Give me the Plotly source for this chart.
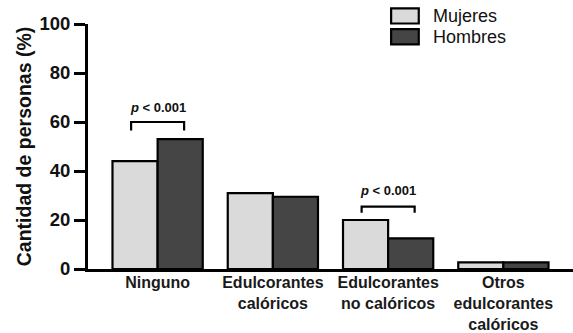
import plotly.graph_objects as go

# Data
categories = ["Ninguno", "Edulcorantes<br>calóricos", "Edulcorantes<br>no calóricos",
              "Otros<br>edulcorantes<br>calóricos"]
mujeres = [44, 31, 20, 2.7]
hombres = [53, 29.5, 12.5, 2.7]
series_names = ["Mujeres", "Hombres"]
y_ticks = [0, 20, 40, 60, 80, 100]

# Significance brackets: category index, bracket top, leg bottom, label height
sig_categories = [0, 2]
sig_tops = [60, 25.5]
sig_legs = [56.5, 23]
sig_label_y = [66, 32]
sig_label = "<b><i>p</i> < 0.001</b>"

LIGHT = "#dadada"
DARK = "#454545"
FONT = "Liberation Sans, Arial, sans-serif"

x_idx = list(range(len(categories)))

fig = go.Figure()
fig.add_trace(go.Bar(x=x_idx, y=mujeres, name=series_names[0],
                     marker=dict(color=LIGHT, line=dict(color="black", width=2.2))))
fig.add_trace(go.Bar(x=x_idx, y=hombres, name=series_names[1],
                     marker=dict(color=DARK, line=dict(color="black", width=2.2))))

# Brackets and p-value labels
half = 0.23
for c, top, leg, ly in zip(sig_categories, sig_tops, sig_legs, sig_label_y):
    fig.add_shape(type="path",
                  path=f"M {c-half},{leg} L {c-half},{top} L {c+half},{top} L {c+half},{leg}",
                  xref="x", yref="y", line=dict(color="black", width=2.2))
    fig.add_annotation(x=c, y=ly, xref="x", yref="y", text=sig_label, showarrow=False,
                       font=dict(family=FONT, size=13, color="#111"))

# Legend drawn as boxes with labels
legend_colors = [LIGHT, DARK]
legend_y = [1.033, 0.948]
for name, col, yc in zip(series_names, legend_colors, legend_y):
    fig.add_shape(type="rect", xref="paper", yref="paper",
                  x0=0.625, x1=0.682, y0=yc - 0.031, y1=yc + 0.031,
                  fillcolor=col, line=dict(color="black", width=2.2))
    fig.add_annotation(x=0.708, y=yc, xref="paper", yref="paper", text=name,
                       showarrow=False, xanchor="left", yanchor="middle",
                       font=dict(family=FONT, size=18, color="#111"))

fig.update_layout(
    width=573, height=333,
    margin=dict(l=88, r=0, t=24, b=64),
    paper_bgcolor="white", plot_bgcolor="white",
    barmode="group", bargap=0.217, bargroupgap=0,
    showlegend=False,
    font=dict(family=FONT, color="#111"),
)
fig.update_xaxes(
    range=[-0.604, 3.604], tickmode="array", tickvals=x_idx,
    ticktext=[f"<b>{c}</b>" for c in categories],
    tickfont=dict(family=FONT, size=16, color="#1a1a1a"),
    showline=True, linecolor="black", linewidth=3,
    ticks="", showgrid=False, zeroline=False, ticklabelstandoff=-3,
    automargin=False,
)
fig.update_yaxes(
    range=[0, 100], tickvals=y_ticks, ticktext=[f"<b>{v}</b>" for v in y_ticks],
    tickfont=dict(family=FONT, size=18.5, color="#111"),
    showline=True, linecolor="black", linewidth=3,
    ticks="outside", ticklen=11, tickwidth=3, tickcolor="black",
    showgrid=False, zeroline=False, automargin=False,
    title=dict(text="<b>Cantidad de personas (%)</b>", standoff=3,
               font=dict(family=FONT, size=19.5, color="#111")),
)

fig.write_html("out.html")
